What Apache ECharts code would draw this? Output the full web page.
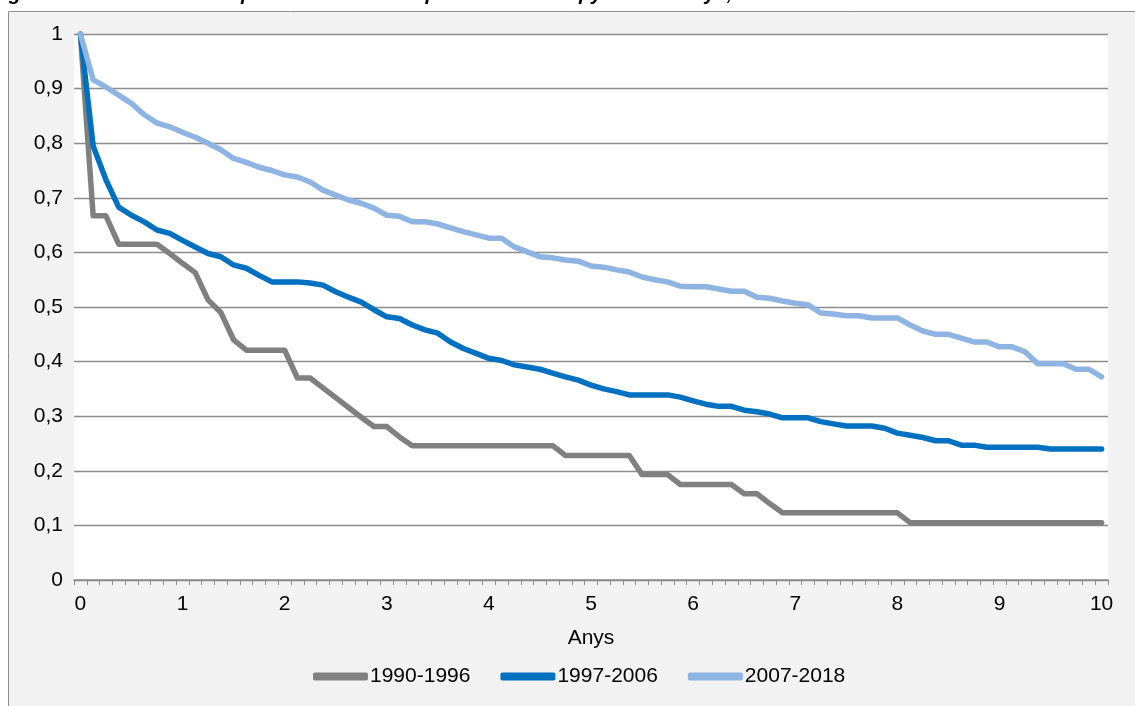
<!DOCTYPE html>
<html>
<head>
<meta charset="utf-8">
<title>Supervivència</title>
<script src="https://cdn.jsdelivr.net/npm/echarts@6/dist/echarts.min.js"></script>
<style>
  html, body { margin: 0; padding: 0; background: #fff; }
  #chart { width: 1135px; height: 706px; }
</style>
</head>
<body>
<div id="chart"></div>
<script>
// x categories: every 1.5 months over 10 years
const years = Array.from({ length: 81 }, (_, i) => i / 8);
const seriesNames = ['1990-1996', '1997-2006', '2007-2018'];

const s1990 = [
  1.000, 0.667, 0.667, 0.615, 0.615, 0.615, 0.615, 0.598, 0.580, 0.563,
  0.513, 0.490, 0.440, 0.421, 0.421, 0.421, 0.421, 0.370, 0.370, 0.352,
  0.334, 0.316, 0.298, 0.281, 0.281, 0.262, 0.246, 0.246, 0.246, 0.246,
  0.246, 0.246, 0.246, 0.246, 0.246, 0.246, 0.246, 0.246, 0.228, 0.228,
  0.228, 0.228, 0.228, 0.228, 0.193, 0.193, 0.193, 0.175, 0.175, 0.175,
  0.175, 0.175, 0.158, 0.158, 0.140, 0.123, 0.123, 0.123, 0.123, 0.123,
  0.123, 0.123, 0.123, 0.123, 0.123, 0.105, 0.105, 0.105, 0.105, 0.105,
  0.105, 0.105, 0.105, 0.105, 0.105, 0.105, 0.105, 0.105, 0.105, 0.105,
  0.105
];
const s1997 = [
  1.000, 0.795, 0.733, 0.683, 0.668, 0.656, 0.641, 0.635, 0.622, 0.610,
  0.598, 0.592, 0.577, 0.571, 0.558, 0.546, 0.546, 0.546, 0.544, 0.540,
  0.528, 0.518, 0.509, 0.495, 0.482, 0.479, 0.467, 0.458, 0.452, 0.436,
  0.424, 0.415, 0.406, 0.402, 0.394, 0.390, 0.386, 0.379, 0.372, 0.366,
  0.357, 0.350, 0.345, 0.339, 0.339, 0.339, 0.339, 0.335, 0.328, 0.322,
  0.318, 0.318, 0.311, 0.308, 0.304, 0.297, 0.297, 0.297, 0.290, 0.286,
  0.282, 0.282, 0.282, 0.278, 0.269, 0.265, 0.261, 0.255, 0.255, 0.247,
  0.247, 0.243, 0.243, 0.243, 0.243, 0.243, 0.240, 0.240, 0.240, 0.240,
  0.240
];
const s2007 = [
  1.000, 0.916, 0.903, 0.888, 0.873, 0.852, 0.837, 0.830, 0.820, 0.811,
  0.800, 0.788, 0.772, 0.765, 0.756, 0.750, 0.742, 0.738, 0.729, 0.714,
  0.705, 0.696, 0.690, 0.681, 0.668, 0.666, 0.656, 0.656, 0.652, 0.645,
  0.638, 0.632, 0.626, 0.626, 0.610, 0.601, 0.592, 0.590, 0.586, 0.584,
  0.575, 0.573, 0.568, 0.564, 0.555, 0.550, 0.546, 0.538, 0.537, 0.537,
  0.533, 0.529, 0.529, 0.518, 0.516, 0.511, 0.507, 0.504, 0.489, 0.487,
  0.484, 0.484, 0.480, 0.480, 0.480, 0.467, 0.456, 0.450, 0.450, 0.443,
  0.436, 0.436, 0.427, 0.427, 0.418, 0.396, 0.396, 0.396, 0.386, 0.386,
  0.372
];
const colors = ['#808080', '#0070c0', '#8db4e2'];

const chart = echarts.init(document.getElementById('chart'));
const font = 'Liberation Sans, Arial, sans-serif';

const option = {
  animation: false,
  backgroundColor: '#fff',
  graphic: [
    {
      type: 'rect',
      shape: { x: 8.5, y: 11.5, width: 1140, height: 710 },
      style: { fill: '#f2f2f2', stroke: '#8c8c8c', lineWidth: 1 },
      z: -10
    },
    {
      type: 'text',
      left: -9,
      top: -16,
      style: {
        text: 'Figure 33. Survival rate of patients on renal replacement therapy in Catalunya, 1990-2018',
        font: 'italic bold 20px ' + font,
        fill: '#000'
      }
    }
  ],
  grid: {
    left: 74, right: 27, top: 34, bottom: 126,
    show: true, backgroundColor: '#fff', borderWidth: 0
  },
  legend: {
    data: seriesNames,
    top: 661,
    left: 308,
    icon: 'roundRect',
    itemWidth: 55,
    itemHeight: 8,
    itemGap: 30,
    textStyle: { fontFamily: font, fontSize: 21, color: '#000', padding: [0, 0, 0, -3] }
  },
  xAxis: {
    type: 'category',
    data: years,
    name: 'Anys',
    nameLocation: 'middle',
    nameGap: 48,
    nameTextStyle: { fontFamily: font, fontSize: 21, color: '#000' },
    axisLine: { lineStyle: { color: '#8c8c8c', width: 1.5 } },
    axisTick: { show: true, interval: 0, length: 5, lineStyle: { color: '#8c8c8c' } },
    axisLabel: {
      interval: 7,
      margin: 14,
      fontFamily: font,
      fontSize: 21,
      color: '#000'
    },
    splitLine: { show: false }
  },
  yAxis: {
    type: 'value',
    min: 0,
    max: 1,
    interval: 0.1,
    axisLine: { show: false },
    axisTick: { show: false },
    axisLabel: {
      margin: 11,
      fontFamily: font,
      fontSize: 21,
      color: '#000',
      formatter: v => String(Math.round(v * 10) / 10).replace('.', ',')
    },
    splitLine: { lineStyle: { color: '#8c8c8c', width: 1.4 } }
  },
  series: [s1990, s1997, s2007].map((d, k) => ({
    name: seriesNames[k],
    type: 'line',
    data: d,
    symbol: 'none',
    color: colors[k],
    lineStyle: { width: 5.5, color: colors[k], join: 'round', cap: 'round' }
  }))
};

chart.setOption(option);
</script>
</body>
</html>
